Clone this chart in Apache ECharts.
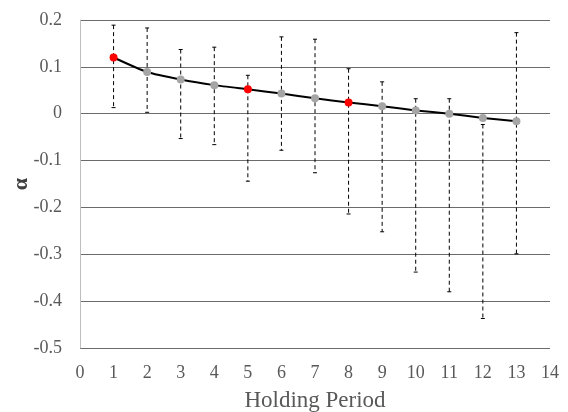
<!DOCTYPE html>
<html>
<head>
<meta charset="utf-8">
<style>
  html, body { margin: 0; padding: 0; background: #fff; }
  #chart { width: 568px; height: 412px; }
</style>
<script src="https://cdn.jsdelivr.net/npm/echarts@6/dist/echarts.min.js"></script>
</head>
<body>
<div id="chart"></div>
<script>
// Holding periods on the x axis
const periods = [1, 2, 3, 4, 5, 6, 7, 8, 9, 10, 11, 12, 13];
// Estimated alpha for each holding period
const alpha = [0.120, 0.089, 0.073, 0.061, 0.052, 0.043, 0.033, 0.024, 0.016, 0.007, 0.000, -0.009, -0.016];
// Interval bounds drawn as dashed whiskers
const upper = [0.189, 0.183, 0.137, 0.142, 0.082, 0.164, 0.159, 0.096, 0.068, 0.032, 0.032, -0.023, 0.173];
const lower = [0.013, 0.003, -0.053, -0.066, -0.144, -0.078, -0.126, -0.214, -0.252, -0.338, -0.380, -0.437, -0.299];
// Periods whose marker is highlighted in red
const highlighted = [1, 5, 8];
// Axis tick settings
const xTicks = { min: 0, max: 14, step: 1 };
const yTicks = { min: -0.5, max: 0.2, step: 0.1 };

const FONT = '"Liberation Serif", "Times New Roman", serif';
const TEXT = '#595959';

const chart = echarts.init(document.getElementById('chart'), null, { renderer: 'canvas' });

const whiskerData = periods.map((p, i) => [p, lower[i], upper[i]]);
const pointData = periods.map((p, i) => ({
  value: [p, alpha[i]],
  itemStyle: { color: highlighted.includes(p) ? '#ff0000' : '#a5a5a5' }
}));

chart.setOption({
  animation: false,
  grid: { left: 80, top: 20, width: 470, height: 328, containLabel: false, outerBoundsMode: 'none' },
  xAxis: {
    type: 'value',
    min: xTicks.min, max: xTicks.max, interval: xTicks.step,
    name: 'Holding Period',
    nameLocation: 'middle',
    nameGap: 41,
    nameMoveOverlap: false,
    nameTextStyle: { fontFamily: FONT, fontSize: 23, color: TEXT },
    axisLine: { show: false },
    axisTick: { show: false },
    axisLabel: { fontFamily: FONT, fontSize: 18, color: TEXT, margin: 16 },
    splitLine: { show: false }
  },
  yAxis: {
    type: 'value',
    min: yTicks.min, max: yTicks.max, interval: yTicks.step,
    name: 'α',
    nameLocation: 'middle',
    nameGap: 48,
    nameRotate: 90,
    nameMoveOverlap: false,
    nameTextStyle: { fontFamily: FONT, fontSize: 22, fontWeight: 'bold', color: '#404040' },
    axisLine: { show: true, lineStyle: { color: '#bfbfbf', width: 1 } },
    axisTick: { show: false },
    axisLabel: {
      fontFamily: FONT, fontSize: 18, color: TEXT, margin: 18,
      formatter: v => String(Math.round(v * 10) / 10)
    },
    splitLine: { show: true, lineStyle: { color: '#6b6b6b', width: 1 } }
  },
  series: [
    {
      type: 'custom',
      name: 'interval',
      data: whiskerData,
      z: 1,
      renderItem: (params, api) => {
        const x = api.value(0);
        const lo = api.coord([x, api.value(1)]);
        const hi = api.coord([x, api.value(2)]);
        const cap = 2;
        const stroke = { stroke: '#000', lineWidth: 1 };
        return {
          type: 'group',
          children: [
            { type: 'line', shape: { x1: hi[0], y1: hi[1], x2: lo[0], y2: lo[1] },
              style: Object.assign({ lineDash: [4, 3] }, stroke) },
            { type: 'line', shape: { x1: hi[0] - cap, y1: hi[1], x2: hi[0] + cap, y2: hi[1] }, style: stroke },
            { type: 'line', shape: { x1: lo[0] - cap, y1: lo[1], x2: lo[0] + cap, y2: lo[1] }, style: stroke }
          ]
        };
      }
    },
    {
      type: 'line',
      name: 'alpha',
      data: pointData,
      z: 3,
      smooth: 0.2,
      symbol: 'circle',
      symbolSize: 8,
      lineStyle: { color: '#000', width: 2 }
    }
  ]
});
</script>
</body>
</html>
